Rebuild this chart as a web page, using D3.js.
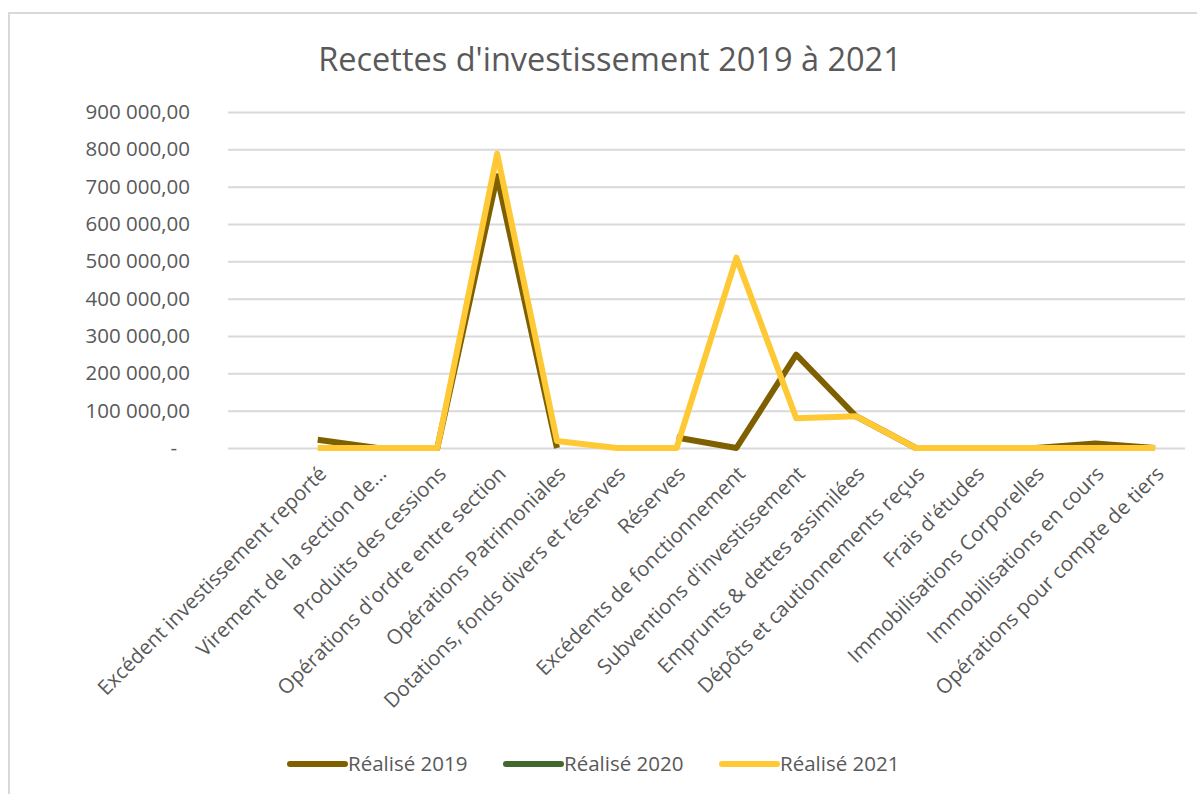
<!DOCTYPE html>
<html lang="fr">
<head>
<meta charset="utf-8">
<script src="https://cdn.jsdelivr.net/npm/d3@7"></script>
<style>
  html, body { margin: 0; padding: 0; background: #ffffff; }
  svg { display: block; font-family: "Open Sans", "Noto Sans", sans-serif; }
</style>
</head>
<body>
<svg id="chart" width="1197" height="794"></svg>
<script>
// Catégories de recettes (la première colonne du tableau source est vide)
const categories = [
  "",
  "Excédent investissement reporté",
  "Virement de la section de...",
  "Produits des cessions",
  "Opérations d'ordre entre section",
  "Opérations Patrimoniales",
  "Dotations, fonds divers et réserves",
  "Réserves",
  "Excédents de fonctionnement",
  "Subventions d'investissement",
  "Emprunts & dettes assimilées",
  "Dépôts et cautionnements reçus",
  "Frais d'études",
  "Immobilisations Corporelles",
  "Immobilisations en cours",
  "Opérations pour compte de tiers"
];

// Montants réalisés (null = cellule vide)
const realise2019 = [null, 22000, 0, 0, 728000, 0, null, 28000, 0, 250000, 85000, 0, 0, 0, 12000, 0];
const realise2020 = [null, null, null, null, null, null, null, null, null, null, null, null, null, null, null, null];
const realise2021 = [null, 0, 0, 0, 788000, 19000, 0, 0, 510000, 80000, 85000, 0, 0, 0, 0, 0];

const seriesNames = ["Réalisé 2019", "Réalisé 2020", "Réalisé 2021"];
const seriesColors = ["#7F6000", "#41692B", "#FFC936"];
const yTicks = [0, 100000, 200000, 300000, 400000, 500000, 600000, 700000, 800000, 900000];

const series = [realise2019, realise2020, realise2021].map((values, i) => ({
  name: seriesNames[i], color: seriesColors[i], values
}));

const svg = d3.select("#chart");
const W = 1197, H = 794;
const plot = { left: 228, right: 1185, top: 112, bottom: 448 };

// Cadre du graphique
svg.append("rect")
  .attr("x", 9).attr("y", 13)
  .attr("width", W + 20).attr("height", H + 20)
  .attr("fill", "#ffffff")
  .attr("stroke", "#d9d9d9").attr("stroke-width", 2);

// Titre
svg.append("text")
  .attr("x", 610).attr("y", 71)
  .attr("text-anchor", "middle")
  .attr("fill", "#595959")
  .attr("font-size", 32.5)
  .text("Recettes d'investissement 2019 à 2021");

const x = d3.scaleBand()
  .domain(d3.range(categories.length))
  .range([plot.left, plot.right])
  .padding(0);
const cx = i => x(i) + x.bandwidth() / 2;

const y = d3.scaleLinear()
  .domain([0, 900000])
  .range([plot.bottom, plot.top]);

const fr = d3.formatLocale({ decimal: ",", thousands: "\u00a0", grouping: [3], currency: ["", ""] });
const fmt = fr.format(",.2f");

// Axe vertical avec quadrillage horizontal
const yAxis = svg.append("g")
  .attr("transform", `translate(${plot.left},0)`)
  .call(d3.axisLeft(y)
    .tickValues(yTicks)
    .tickSize(-(plot.right - plot.left))
    .tickPadding(38)
    .tickFormat(v => v === 0 ? "-" : fmt(v)));
yAxis.select(".domain").remove();
yAxis.selectAll(".tick line")
  .attr("stroke", "#d9d9d9")
  .attr("stroke-width", 2);
yAxis.selectAll(".tick text")
  .attr("fill", "#595959")
  .attr("font-size", 20.5)
  .attr("font-family", "\"Open Sans\", sans-serif")
  .attr("dx", v => v === 0 ? -13 : 0);

// Libellés des catégories, inclinés à 45°
svg.append("g")
  .selectAll("text")
  .data(categories)
  .join("text")
  .attr("transform", (d, i) => `translate(${cx(i) + 10},${plot.bottom + 27}) rotate(-45)`)
  .attr("text-anchor", "end")
  .attr("fill", "#595959")
  .attr("font-size", 20.5)
  .text(d => d);

// Courbes
const line = d3.line()
  .defined(d => d != null)
  .x((d, i) => cx(i))
  .y(d => y(d));

svg.append("g")
  .selectAll("path")
  .data(series)
  .join("path")
  .attr("d", s => line(s.values))
  .attr("fill", "none")
  .attr("stroke", s => s.color)
  .attr("stroke-width", 6)
  .attr("stroke-linejoin", "round");

// Légende
const legendX = [290, 506, 722];
const legend = svg.append("g")
  .selectAll("g")
  .data(series)
  .join("g")
  .attr("transform", (d, i) => `translate(${legendX[i]},764)`);
legend.append("line")
  .attr("x1", 0).attr("x2", 55)
  .attr("stroke", d => d.color)
  .attr("stroke-width", 6)
  .attr("stroke-linecap", "round");
legend.append("text")
  .attr("x", 58).attr("dy", "0.35em")
  .attr("fill", "#595959")
  .attr("font-size", 20.5)
  .text(d => d.name);
</script>
</body>
</html>
